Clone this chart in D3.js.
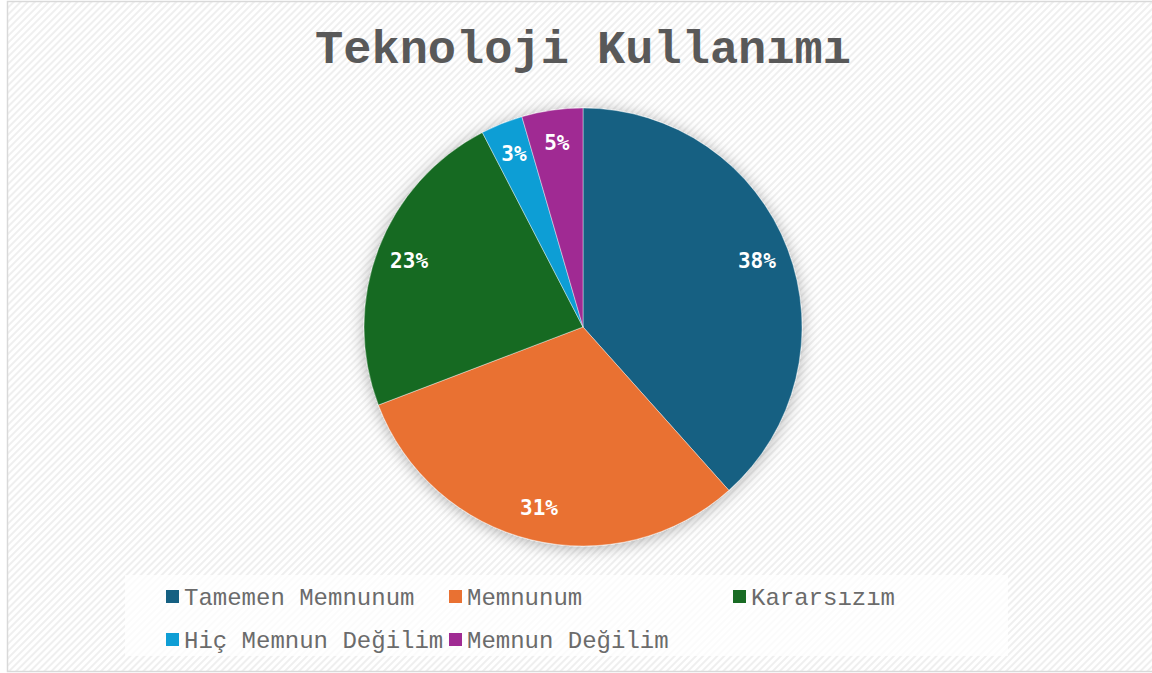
<!DOCTYPE html>
<html><head><meta charset="utf-8">
<script src="https://cdn.jsdelivr.net/npm/d3@7"></script>
<style>html,body{margin:0;padding:0;background:#fff;overflow:hidden}</style>
</head><body>
<svg id="chart" width="1152" height="673"></svg>
<script>
const title = "Teknoloji Kullanımı";
const categories = ["Tamemen Memnunum","Memnunum","Kararsızım","Hiç Memnun Değilim","Memnun Değilim"];
const values = [38.4, 30.8, 23.2, 3.1, 4.5];
const labels = ["38%","31%","23%","3%","5%"];
const colors = ["#156082","#E97132","#196B24","#0F9ED5","#A02B93"];

const W = 1152, H = 673;
const svg = d3.select("#chart");
const defs = svg.append("defs");
const pat = defs.append("pattern").attr("id","hatch").attr("patternUnits","userSpaceOnUse")
  .attr("width",5).attr("height",5).attr("patternTransform","rotate(45)");
pat.append("rect").attr("width",5).attr("height",5).attr("fill","#ffffff");
pat.append("rect").attr("x",0).attr("width",2).attr("height",5).attr("fill","#efefef");
const f = defs.append("filter").attr("id","shadow").attr("x","-20%").attr("y","-20%").attr("width","140%").attr("height","140%");
f.append("feDropShadow").attr("dx",0).attr("dy",2).attr("stdDeviation",8).attr("flood-color","#000").attr("flood-opacity",0.3);

svg.append("rect").attr("x",7.5).attr("y",1.5).attr("width",1150).attr("height",670)
  .attr("fill","url(#hatch)").attr("stroke","#d9d9d9").attr("stroke-width",1.5);

svg.append("text").attr("x",583).attr("y",63).attr("text-anchor","middle")
  .attr("font-family","'Liberation Mono','Courier New',monospace").attr("font-weight","bold")
  .attr("font-size",47).attr("fill","#595959").text(title);

const cx = 583, cy = 327, r = 219;
const pie = d3.pie().sort(null).value(d => d)(values);
const arc = d3.arc().innerRadius(0).outerRadius(r);
const labelArc = d3.arc().innerRadius(r*0.85).outerRadius(r*0.85);
const g = svg.append("g").attr("transform",`translate(${cx},${cy})`);
g.append("g").attr("filter","url(#shadow)").selectAll("path").data(pie).join("path")
  .attr("d",arc).attr("fill",(d,i)=>colors[i]).attr("stroke","#ffffff").attr("stroke-opacity",0.5).attr("stroke-width",0.8);
g.selectAll("text.lbl").data(pie).join("text").attr("class","lbl")
  .attr("transform",d=>`translate(${labelArc.centroid(d)})`)
  .attr("text-anchor","middle").attr("dy","0.35em")
  .attr("font-family","'DejaVu Sans Mono',monospace").attr("font-weight","bold")
  .attr("font-size",21).attr("fill","#ffffff").text((d,i)=>labels[i]);

// legend
svg.append("rect").attr("x",125).attr("y",575).attr("width",883).attr("height",81)
  .attr("fill","#ffffff").attr("fill-opacity",0.75);
const colX = [166, 449, 733];
const rowY = [597, 640];
const lg = svg.append("g");
categories.forEach((c,i)=>{
  const col = i < 3 ? i : i - 3;
  const row = i < 3 ? 0 : 1;
  const x = colX[col], y = rowY[row];
  lg.append("rect").attr("x",x).attr("y",y-7).attr("width",13).attr("height",13).attr("fill",colors[i]);
  lg.append("text").attr("x",x+18).attr("y",y).attr("dy","0.35em")
    .attr("font-family","'Liberation Mono','Courier New',monospace").attr("font-size",24)
    .attr("fill","#6b6b6b").text(c);
});
</script>
</body></html>
